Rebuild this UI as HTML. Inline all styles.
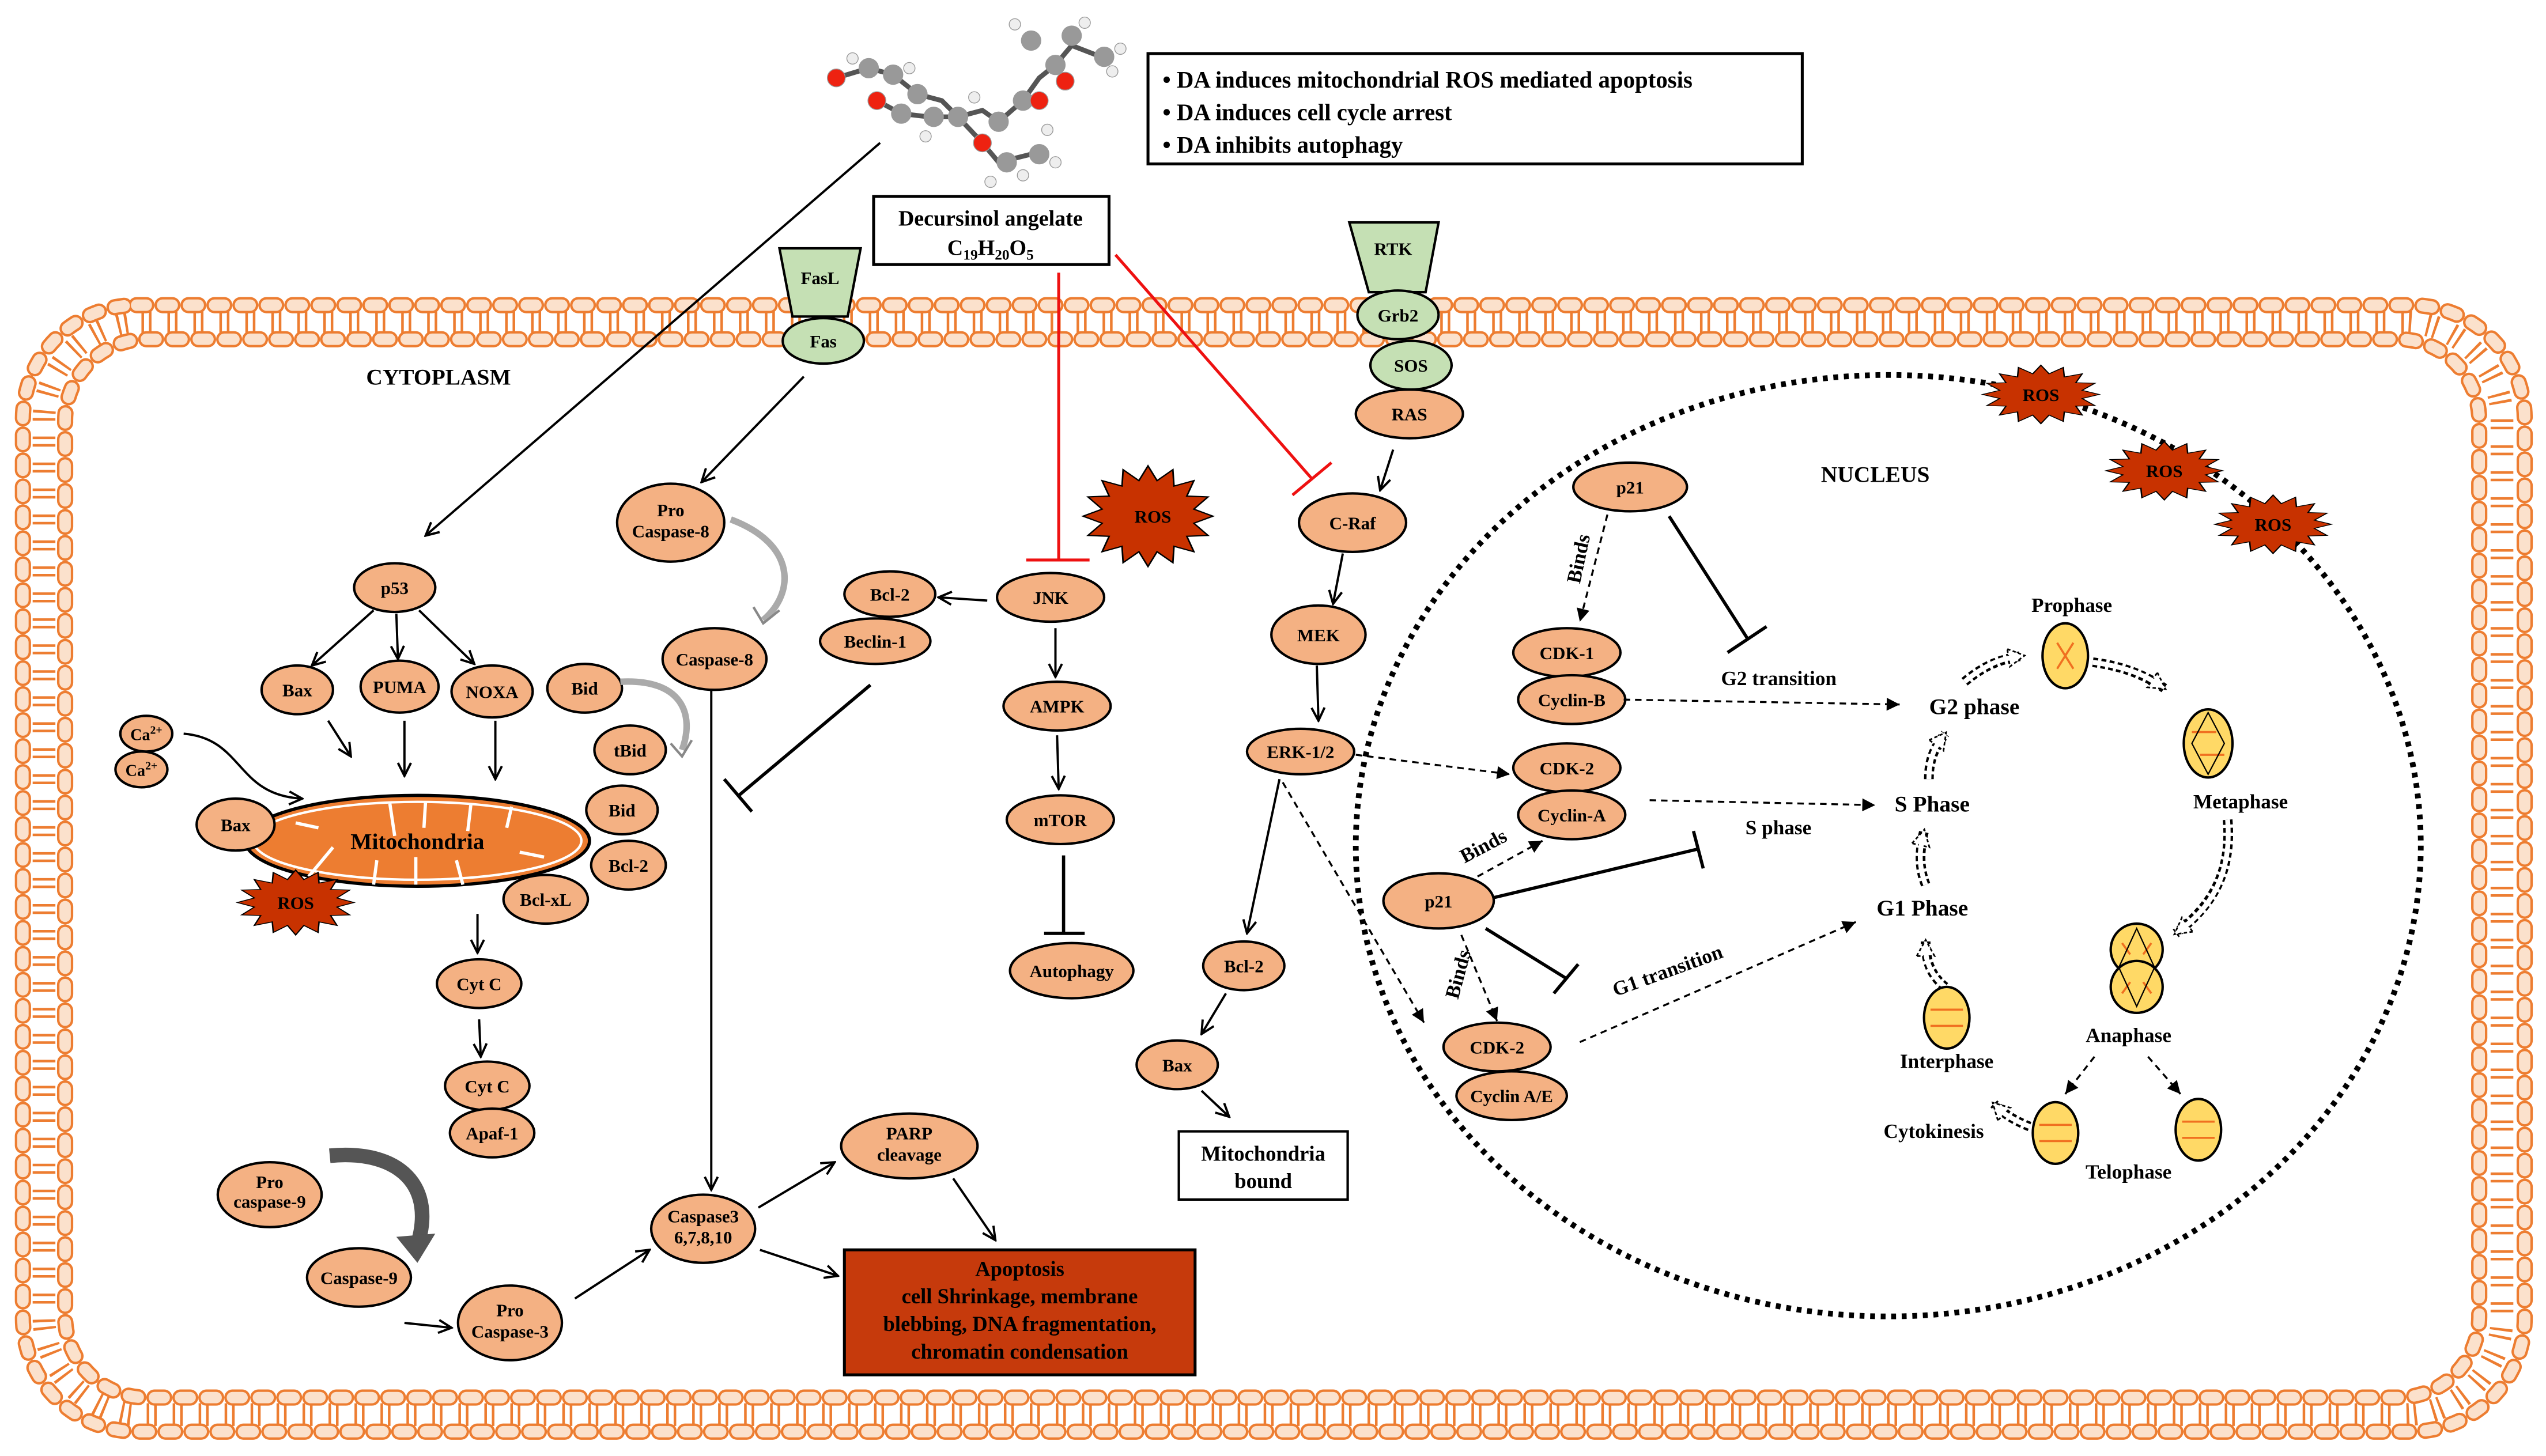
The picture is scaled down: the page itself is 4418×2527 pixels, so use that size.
<!DOCTYPE html>
<html><head><meta charset="utf-8"><style>
html,body{margin:0;padding:0;background:#fff;}
svg{display:block;}
text{font-family:"Liberation Serif",serif;font-weight:bold;fill:#000;}
</style></head><body>
<svg width="4418" height="2527" viewBox="0 0 1568 897" xmlns="http://www.w3.org/2000/svg">
<defs>
<marker id="a" markerWidth="10" markerHeight="10" refX="9" refY="5" orient="auto" markerUnits="userSpaceOnUse"><path d="M1,1 L9,5 L1,9" fill="none" stroke="#000" stroke-width="1.4"/></marker>
<marker id="ad" markerWidth="10" markerHeight="10" refX="9" refY="5" orient="auto" markerUnits="userSpaceOnUse"><path d="M1,1 L9,5 L1,9 Z" fill="#000"/></marker>
<marker id="ho" markerWidth="14" markerHeight="14" refX="10" refY="7" orient="auto" markerUnits="userSpaceOnUse"><path d="M1,1.5 L11,7 L1,12.5 Z" fill="#fff" stroke="#000" stroke-width="1" stroke-dasharray="2 1.5"/></marker>
<polygon id="star" points="10,0 7.06,1.4 9.24,3.83 5.98,4 7.07,7.07 4,5.98 3.83,9.24 1.4,7.06 0,10 -1.4,7.06 -3.83,9.24 -4,5.98 -7.07,7.07 -5.98,4 -9.24,3.83 -7.06,1.4 -10,0 -7.06,-1.4 -9.24,-3.83 -5.98,-4 -7.07,-7.07 -4,-5.98 -3.83,-9.24 -1.4,-7.06 0,-10 1.4,-7.06 3.83,-9.24 4,-5.98 7.07,-7.07 5.98,-4 9.24,-3.83 7.06,-1.4"/>
</defs>
<rect width="1568" height="897" fill="#fff"/>

<!-- membrane -->
<g fill="none">
<rect x="27" y="198.5" width="1514" height="673" rx="60" stroke="#ed7d31" stroke-width="14" stroke-dasharray="1.6 3 1.6 9.8"/>
<rect x="14" y="188" width="1541" height="694" rx="70" stroke="#ed7d31" stroke-width="10" stroke-dasharray="6 10" stroke-linecap="round"/>
<rect x="14" y="188" width="1541" height="694" rx="70" stroke="#fbe1cc" stroke-width="7" stroke-dasharray="6 10" stroke-linecap="round"/>
<rect x="40" y="209" width="1487" height="652" rx="50" stroke="#ed7d31" stroke-width="10" stroke-dasharray="6 10" stroke-linecap="round"/>
<rect x="40" y="209" width="1487" height="652" rx="50" stroke="#fbe1cc" stroke-width="7" stroke-dasharray="6 10" stroke-linecap="round"/>
</g>

<!-- nucleus -->
<ellipse cx="1163" cy="521" rx="328" ry="290" fill="none" stroke="#000" stroke-width="3.5" stroke-dasharray="3 3.5"/>

<!-- molecule -->
<g stroke="#555" stroke-width="3" fill="none">
<path d="M515,48 L535,42 L550,46 L565,58 L580,62 L590,72 L605,68 L615,75 L630,62 L640,48 L650,40 L660,28 L678,35 M540,62 L555,70 L572,72 L590,72 M605,88 L615,100 L635,95 M590,72 L605,88 M630,62 L640,48"/>
</g>
<g stroke="#999" stroke-width="0.5">
<circle cx="535" cy="42" r="6" fill="#999"/><circle cx="550" cy="46" r="6" fill="#999"/><circle cx="565" cy="58" r="6" fill="#999"/>
<circle cx="555" cy="70" r="6" fill="#999"/><circle cx="575" cy="72" r="6" fill="#999"/><circle cx="590" cy="72" r="6" fill="#999"/>
<circle cx="615" cy="75" r="6" fill="#999"/><circle cx="630" cy="62" r="6" fill="#999"/><circle cx="650" cy="40" r="6" fill="#999"/>
<circle cx="660" cy="22" r="6" fill="#999"/><circle cx="635" cy="25" r="6" fill="#999"/><circle cx="680" cy="35" r="6" fill="#999"/>
<circle cx="620" cy="100" r="6" fill="#999"/><circle cx="640" cy="95" r="6" fill="#999"/>
<circle cx="515" cy="48" r="5.5" fill="#e21"/><circle cx="540" cy="62" r="5.5" fill="#e21"/><circle cx="605" cy="88" r="5.5" fill="#e21"/>
<circle cx="640" cy="62" r="5.5" fill="#e21"/><circle cx="656" cy="50" r="5.5" fill="#e21"/>
<circle cx="525" cy="36" r="3.5" fill="#eee"/><circle cx="560" cy="42" r="3.5" fill="#eee"/><circle cx="570" cy="84" r="3.5" fill="#eee"/>
<circle cx="625" cy="15" r="3.5" fill="#eee"/><circle cx="668" cy="14" r="3.5" fill="#eee"/><circle cx="690" cy="30" r="3.5" fill="#eee"/>
<circle cx="685" cy="44" r="3.5" fill="#eee"/><circle cx="650" cy="100" r="3.5" fill="#eee"/><circle cx="630" cy="108" r="3.5" fill="#eee"/>
<circle cx="610" cy="112" r="3.5" fill="#eee"/><circle cx="645" cy="80" r="3.5" fill="#eee"/><circle cx="600" cy="60" r="3.5" fill="#eee"/>
</g>

<!-- boxes -->
<rect x="707" y="33" width="403" height="68" fill="#fff" stroke="#000" stroke-width="1.8"/>
<g font-size="14.5"><text x="716" y="54">•   DA induces mitochondrial ROS mediated apoptosis</text>
<text x="716" y="74">•   DA induces cell cycle arrest</text>
<text x="716" y="94">•   DA inhibits autophagy</text></g>
<rect x="538" y="121" width="145" height="42" fill="#fff" stroke="#000" stroke-width="1.8"/>
<text x="610" y="139" font-size="13.5" text-anchor="middle">Decursinol angelate</text>
<text x="610" y="157" font-size="13.5" text-anchor="middle">C<tspan font-size="9" dy="3">19</tspan><tspan dy="-3">H</tspan><tspan font-size="9" dy="3">20</tspan><tspan dy="-3">O</tspan><tspan font-size="9" dy="3">5</tspan></text>

<!-- receptors -->
<polygon points="480,153 530,153 522,195 488,195" fill="#c5e0b4" stroke="#000" stroke-width="1.5"/>
<text x="505" y="175" font-size="11" text-anchor="middle">FasL</text>
<ellipse cx="507" cy="210" rx="25" ry="14" fill="#c5e0b4" stroke="#000" stroke-width="1.5"/>
<text x="507" y="214" font-size="11" text-anchor="middle">Fas</text>
<polygon points="831,137 886,137 878,180 843,180" fill="#c5e0b4" stroke="#000" stroke-width="1.5"/>
<text x="858" y="157" font-size="11" text-anchor="middle">RTK</text>
<ellipse cx="861" cy="194" rx="25" ry="15" fill="#c5e0b4" stroke="#000" stroke-width="1.5"/>
<text x="861" y="198" font-size="11" text-anchor="middle">Grb2</text>
<ellipse cx="869" cy="225" rx="25" ry="15" fill="#c5e0b4" stroke="#000" stroke-width="1.5"/>
<text x="869" y="229" font-size="11" text-anchor="middle">SOS</text>

<!-- labels -->
<text x="270" y="237" font-size="14" text-anchor="middle">CYTOPLASM</text>
<text x="1155" y="297" font-size="14" text-anchor="middle">NUCLEUS</text>

<!-- mitochondria -->
<ellipse cx="257" cy="518" rx="106" ry="28" fill="#ed7d31" stroke="#000" stroke-width="2"/>
<ellipse cx="257" cy="518" rx="101" ry="24" fill="none" stroke="#fff" stroke-width="1.5"/>
<g stroke="#fff" stroke-width="2"><path d="M182,507 L196,510 M205,522 L190,540 M240,495 L243,515 M232,530 L230,545 M262,494 L261,510 M256,528 L256,545 M290,495 L288,512 M281,530 L285,545 M315,497 L312,510 M320,525 L335,528"/></g>
<text x="257" y="523" font-size="14" text-anchor="middle">Mitochondria</text>

<!-- ROS stars -->
<g fill="#c83200" stroke="#000" stroke-width="0.25">
<use href="#star" transform="translate(182,556) scale(3.6,2)"/>
<use href="#star" transform="translate(707,318) scale(4,3.1)"/>
<use href="#star" transform="translate(1257,243) scale(3.6,1.8)"/>
<use href="#star" transform="translate(1333,290) scale(3.6,1.8)"/>
<use href="#star" transform="translate(1400,323) scale(3.6,1.8)"/>
</g>
<g font-size="11" text-anchor="middle"><text x="182" y="560">ROS</text><text x="710" y="322">ROS</text><text x="1257" y="247">ROS</text><text x="1333" y="294">ROS</text><text x="1400" y="327">ROS</text></g>

<!-- nodes -->
<g fill="#f4b183" stroke="#000" stroke-width="1.5">
<ellipse cx="868" cy="255" rx="33" ry="15"/>
<ellipse cx="413" cy="322" rx="33" ry="24"/>
<ellipse cx="440" cy="406" rx="32" ry="19"/>
<ellipse cx="243" cy="362" rx="25" ry="15"/>
<ellipse cx="183" cy="425" rx="22" ry="15"/>
<ellipse cx="246" cy="423" rx="24" ry="16"/>
<ellipse cx="303" cy="426" rx="25" ry="16"/>
<ellipse cx="360" cy="424" rx="23" ry="15"/>
<ellipse cx="388" cy="462" rx="22" ry="15"/>
<ellipse cx="383" cy="499" rx="22" ry="15"/>
<ellipse cx="387" cy="533" rx="23" ry="15"/>
<ellipse cx="336" cy="554" rx="26" ry="15"/>
<ellipse cx="145" cy="508" rx="24" ry="16"/>
<ellipse cx="90" cy="452" rx="16" ry="11"/>
<ellipse cx="87" cy="474" rx="16" ry="11"/>
<ellipse cx="295" cy="606" rx="26" ry="15"/>
<ellipse cx="300" cy="669" rx="26" ry="15"/>
<ellipse cx="303" cy="698" rx="26" ry="15"/>
<ellipse cx="166" cy="736" rx="32" ry="20"/>
<ellipse cx="221" cy="787" rx="32" ry="18"/>
<ellipse cx="314" cy="815" rx="32" ry="23"/>
<ellipse cx="433" cy="757" rx="32" ry="21"/>
<ellipse cx="560" cy="706" rx="42" ry="20"/>
<ellipse cx="548" cy="366" rx="28" ry="14"/>
<ellipse cx="539" cy="395" rx="34" ry="14"/>
<ellipse cx="647" cy="368" rx="33" ry="15"/>
<ellipse cx="651" cy="435" rx="33" ry="15"/>
<ellipse cx="653" cy="505" rx="33" ry="15"/>
<ellipse cx="660" cy="598" rx="38" ry="17"/>
<ellipse cx="833" cy="322" rx="33" ry="18"/>
<ellipse cx="812" cy="391" rx="29" ry="18"/>
<ellipse cx="801" cy="463" rx="33" ry="14"/>
<ellipse cx="766" cy="595" rx="25" ry="15"/>
<ellipse cx="725" cy="656" rx="25" ry="15"/>
<ellipse cx="1004" cy="300" rx="35" ry="15"/>
<ellipse cx="965" cy="402" rx="33" ry="15"/>
<ellipse cx="968" cy="431" rx="33" ry="15"/>
<ellipse cx="965" cy="473" rx="33" ry="15"/>
<ellipse cx="968" cy="502" rx="33" ry="15"/>
<ellipse cx="886" cy="555" rx="34" ry="17"/>
<ellipse cx="922" cy="645" rx="33" ry="15"/>
<ellipse cx="931" cy="675" rx="34" ry="15"/>
</g>
<g font-size="11" text-anchor="middle">
<text x="868" y="259">RAS</text>
<text x="413" y="318">Pro</text><text x="413" y="331">Caspase-8</text>
<text x="440" y="410">Caspase-8</text>
<text x="243" y="366">p53</text>
<text x="183" y="429">Bax</text>
<text x="246" y="427">PUMA</text>
<text x="303" y="430">NOXA</text>
<text x="360" y="428">Bid</text>
<text x="388" y="466">tBid</text>
<text x="383" y="503">Bid</text>
<text x="387" y="537">Bcl-2</text>
<text x="336" y="558">Bcl-xL</text>
<text x="145" y="512">Bax</text>
<text x="90" y="456" font-size="10">Ca<tspan font-size="7" dy="-4">2+</tspan></text>
<text x="87" y="478" font-size="10">Ca<tspan font-size="7" dy="-4">2+</tspan></text>
<text x="295" y="610">Cyt C</text>
<text x="300" y="673">Cyt C</text>
<text x="303" y="702">Apaf-1</text>
<text x="166" y="732">Pro</text><text x="166" y="744">caspase-9</text>
<text x="221" y="791">Caspase-9</text>
<text x="314" y="811">Pro</text><text x="314" y="824">Caspase-3</text>
<text x="433" y="753">Caspase3</text><text x="433" y="766">6,7,8,10</text>
<text x="560" y="702">PARP</text><text x="560" y="715">cleavage</text>
<text x="548" y="370">Bcl-2</text>
<text x="539" y="399">Beclin-1</text>
<text x="647" y="372">JNK</text>
<text x="651" y="439">AMPK</text>
<text x="653" y="509">mTOR</text>
<text x="660" y="602">Autophagy</text>
<text x="833" y="326">C-Raf</text>
<text x="812" y="395">MEK</text>
<text x="801" y="467">ERK-1/2</text>
<text x="766" y="599">Bcl-2</text>
<text x="725" y="660">Bax</text>
<text x="1004" y="304">p21</text>
<text x="965" y="406">CDK-1</text>
<text x="968" y="435">Cyclin-B</text>
<text x="965" y="477">CDK-2</text>
<text x="968" y="506">Cyclin-A</text>
<text x="886" y="559">p21</text>
<text x="922" y="649">CDK-2</text>
<text x="931" y="679">Cyclin A/E</text>
</g>

<!-- apoptosis box -->
<rect x="520" y="770" width="216" height="77" fill="#c63a0c" stroke="#000" stroke-width="1.8"/>
<g font-size="13" text-anchor="middle"><text x="628" y="786">Apoptosis</text><text x="628" y="803">cell Shrinkage, membrane</text><text x="628" y="820">blebbing, DNA fragmentation,</text><text x="628" y="837">chromatin condensation</text></g>
<rect x="726" y="697" width="104" height="42" fill="#fff" stroke="#000" stroke-width="1.5"/>
<g font-size="13" text-anchor="middle"><text x="778" y="715">Mitochondria</text><text x="778" y="732">bound</text></g>

<!-- solid arrows -->
<g stroke="#000" stroke-width="1.4" fill="none" marker-end="url(#a)">
<path d="M542,88 L262,330"/>
<path d="M495,232 L432,297"/>
<path d="M230,376 L192,410"/>
<path d="M244,378 L245,406"/>
<path d="M258,376 L292,409"/>
<path d="M202,444 L216,466"/>
<path d="M249,444 L249,478"/>
<path d="M305,444 L305,480"/>
<path d="M113,452 C150,455 145,490 186,492"/>
<path d="M294,563 L294,587"/>
<path d="M295,628 L296,651"/>
<path d="M438,425 L438,733"/>
<path d="M249,815 L278,818"/>
<path d="M354,800 L400,770"/>
<path d="M467,744 L514,716"/>
<path d="M468,770 L516,786"/>
<path d="M587,726 L613,764"/>
<path d="M608,370 L578,368"/>
<path d="M650,387 L650,417"/>
<path d="M651,453 L652,486"/>
<path d="M858,277 L850,302"/>
<path d="M827,341 L821,372"/>
<path d="M811,410 L812,444"/>
<path d="M788,480 L768,575"/>
<path d="M755,612 L740,637"/>
<path d="M740,672 L757,688"/>
</g>
<!-- inhibitions -->
<g stroke="#000" stroke-width="2" fill="none">
<path d="M536,422 L455,490 M446,480 L463,500"/>
<path d="M655,527 L655,575 M643,575 L668,575"/>
<path d="M1028,318 L1076,393 M1064,402 L1088,386"/>
<path d="M920,553 L1046,523 M1043,512 L1049,535"/>
<path d="M915,572 L965,603 M957,612 L972,594"/>
</g>
<g stroke="#ee1111" stroke-width="1.8" fill="none">
<path d="M652,168 L652,345 M632,345 L671,345"/>
<path d="M687,157 L808,295 M796,305 L820,285"/>
</g>
<!-- grey curved arrows -->
<path d="M450,320 C490,335 490,365 470,382" fill="none" stroke="#aaa" stroke-width="4"/>
<path d="M464,374 L470,384 L480,376" fill="none" stroke="#888" stroke-width="1.5"/>
<path d="M382,420 C420,418 428,440 420,462" fill="none" stroke="#aaa" stroke-width="4"/>
<path d="M413,458 L420,466 L426,456" fill="none" stroke="#888" stroke-width="1.5"/>
<path d="M203,712 C245,708 270,730 256,770" fill="none" stroke="#555" stroke-width="9"/>
<path d="M244,762 L257,778 L268,760 Z" fill="#555"/>

<!-- dashed arrows -->
<g stroke="#000" stroke-width="1.2" fill="none" stroke-dasharray="4 3" marker-end="url(#ad)">
<path d="M990,317 L973,383"/>
<path d="M1000,431 L1170,434"/>
<path d="M835,465 L930,477"/>
<path d="M1016,493 L1155,496"/>
<path d="M790,482 L877,630"/>
<path d="M910,540 L950,518"/>
<path d="M900,576 L922,629"/>
<path d="M973,642 L1143,568"/>
<path d="M1290,651 L1272,674"/>
<path d="M1323,651 L1343,674"/>
</g>
<g font-size="12.5">
<text x="1060" y="422">G2 transition</text>
<text x="1075" y="514">S phase</text>
<text transform="translate(995,614) rotate(-20)">G1 transition</text>
<text transform="translate(973,360) rotate(-78)">Binds</text>
<text transform="translate(902,532) rotate(-28)">Binds</text>
<text transform="translate(898,616) rotate(-75)">Binds</text>
</g>

<!-- cell cycle -->
<g font-size="14" text-anchor="middle">
<text x="1216" y="440">G2 phase</text>
<text x="1190" y="500">S Phase</text>
<text x="1184" y="564">G1 Phase</text>
</g>
<g font-size="12.5" text-anchor="middle">
<text x="1276" y="377">Prophase</text>
<text x="1380" y="498">Metaphase</text>
<text x="1311" y="642">Anaphase</text>
<text x="1311" y="726">Telophase</text>
<text x="1191" y="701">Cytokinesis</text>
<text x="1199" y="658">Interphase</text>
</g>
<!-- hollow dashed cycle arrows -->
<g fill="none" stroke-dasharray="3 2">
<g stroke="#000" stroke-width="6" marker-end="url(#ho)">
<path d="M1210,420 C1222,410 1232,406 1246,404"/>
<path d="M1289,408 C1305,410 1320,415 1333,424"/>
<path d="M1372,505 C1375,540 1360,560 1340,575"/>
<path d="M1188,480 C1188,467 1192,460 1198,452"/>
<path d="M1186,545 C1182,535 1182,525 1185,512"/>
<path d="M1198,608 C1188,600 1186,590 1186,580"/>
<path d="M1250,694 C1240,690 1234,686 1228,680"/>
</g>
</g>
<g fill="none" stroke="#fff" stroke-width="3">
<path d="M1210,420 C1222,410 1232,406 1240,405"/>
<path d="M1289,408 C1305,410 1320,415 1328,421"/>
<path d="M1372,505 C1375,540 1360,560 1344,572"/>
<path d="M1188,480 C1188,467 1192,460 1195,456"/>
<path d="M1186,545 C1182,535 1182,525 1184,517"/>
<path d="M1198,608 C1188,600 1186,590 1186,585"/>
<path d="M1250,694 C1240,690 1234,686 1231,683"/>
</g>
<g fill="#ffd966" stroke="#000" stroke-width="1.5">
<ellipse cx="1272" cy="404" rx="14" ry="20"/>
<ellipse cx="1360" cy="458" rx="15" ry="21"/>
<circle cx="1316" cy="585" r="16"/><circle cx="1316" cy="608" r="16"/>
<ellipse cx="1354" cy="696" rx="14" ry="19"/>
<ellipse cx="1266" cy="698" rx="14" ry="19"/>
<ellipse cx="1199" cy="627" rx="14" ry="19"/>
</g>
<g stroke="#f07020" stroke-width="1.3" fill="none">
<path d="M1267,396 L1277,412 M1277,396 L1267,412"/>
<path d="M1350,451 L1365,451 M1355,465 L1370,465"/>
<path d="M1307,581 L1312,588 M1325,581 L1320,588 M1307,612 L1312,605 M1325,612 L1320,605"/>
<path d="M1344,691 L1364,691 M1344,701 L1364,701"/>
<path d="M1256,693 L1276,693 M1256,703 L1276,703"/>
<path d="M1189,622 L1209,622 M1189,632 L1209,632"/>
</g>
<g stroke="#000" stroke-width="0.8" fill="none">
<path d="M1360,439 L1350,458 L1360,477 L1370,458 Z"/>
<path d="M1316,572 L1305,596 L1316,620 L1327,596 Z"/>
</g>
</svg>
</body></html>
